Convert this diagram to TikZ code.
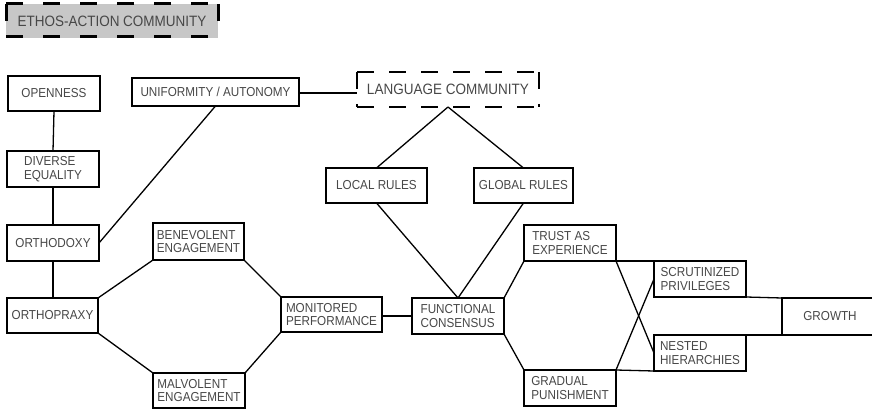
\documentclass[tikz,border=0pt]{standalone}
\usepackage{fontspec}
\setmainfont{Liberation Sans}[FakeStretch=0.9]
\newcommand\bx[7][]{\node[boxn,#1,minimum width={#5-#3},minimum height={#6-#4}] (#2) at ({(#3+#5)/2},{(#4+#6)/2}) {#7};}
\begin{document}
\begin{tikzpicture}[x=1pt,y=-1pt,
  boxn/.style={draw=black,line width=1.7pt,inner sep=0pt,outer sep=0pt,text=black!72,align=left,font=\fontsize{13}{13.4}\selectfont},
  headn/.style={draw=none,font=\fontsize{15}{16}\selectfont},
  ethdash/.style={line width=3pt,dash pattern=on 17pt off 20pt},
  langdash/.style={line width=2.3pt,dash pattern=on 17pt off 15pt},
  conn/.style={line width=1.3pt,black}]
\useasboundingbox (0,0) rectangle (872,409);
\clip (0,0) rectangle (872,409);
% headers
\bx[headn,fill=black!22]{eth}{6}{4}{218}{38}{ETHOS-ACTION COMMUNITY}
\draw[ethdash] (eth.north west) -- (eth.north east);
\draw[ethdash] ([yshift=1pt]eth.south west) -- ([yshift=1pt]eth.south east);
\draw[ethdash] (eth.north west) -- (eth.south west);
\draw[ethdash] (eth.north east) -- (eth.south east);
\bx[headn]{lang}{357}{72}{539}{107}{LANGUAGE COMMUNITY}
\draw[langdash] (lang.north west) -- (lang.north east);
\draw[langdash] (lang.south west) -- (lang.south east);
\draw[langdash] (lang.north west) -- (lang.south west);
\draw[langdash] (lang.north east) -- (lang.south east);
% boxes
\bx{open}{8}{76}{100}{111}{OPENNESS}
\bx{uni}{132}{78}{299}{106}{UNIFORMITY / AUTONOMY}
\bx{div}{7}{151}{99}{187}{DIVERSE\\EQUALITY}
\bx{odx}{7}{225}{99}{261}{ORTHODOXY}
\bx{opx}{7}{298}{98}{333}{ORTHOPRAXY}
\bx{ben}{153}{223}{244}{260}{BENEVOLENT\\ENGAGEMENT}
\bx{mal}{153}{373}{245}{408}{MALVOLENT\\ENGAGEMENT}
\bx{mon}{281}{297}{382}{332}{MONITORED\\PERFORMANCE}
\bx{loc}{326}{168}{427}{203}{LOCAL RULES}
\bx{glob}{474}{168}{573}{203}{GLOBAL RULES}
\bx{func}{412}{298}{504}{334}{FUNCTIONAL\\CONSENSUS}
\bx{trust}{524}{225}{616}{261}{TRUST AS\\EXPERIENCE}
\bx{grad}{524}{370}{616}{406}{GRADUAL\\PUNISHMENT}
\bx{scr}{654}{261}{746}{297}{SCRUTINIZED\\PRIVILEGES}
\bx{nest}{654}{335}{746}{371}{NESTED\\HIERARCHIES}
\bx{gro}{782}{298}{878}{335}{GROWTH}
% connectors
\draw[conn] (open.south) -- (div.north);
\draw[conn] (div.south) -- (odx.north);
\draw[conn] (odx.south) -- (odx.south |- opx.north);
\draw[conn] (odx.east) -- (uni.south);
\draw[conn] ([yshift=-1pt]uni.east) -- ([yshift=-1pt]uni.east -| lang.west);
\draw[conn] (lang.south) -- (loc.north);
\draw[conn] (lang.south) -- (glob.north);
\draw[conn] (loc.south) -- (func.north);
\draw[conn] (glob.south) -- (func.north);
\draw[conn] (opx.north east) -- (ben.south west);
\draw[conn] (opx.south east) -- (mal.north west);
\draw[conn] (ben.south east) -- (mon.north west);
\draw[conn] (mal.north east) -- (mon.south west);
\draw[conn] ([yshift=-1.5pt]mon.east) -- ([yshift=-1.5pt]mon.east -| func.west);
\draw[conn] (func.north east) -- (trust.south west);
\draw[conn] (func.south east) -- (grad.north west);
\draw[conn] (trust.south east) -- (scr.north west);
\draw[conn] (trust.south east) -- (nest.west);
\draw[conn] (grad.north east) -- (nest.south west);
\draw[conn] (grad.north east) -- (scr.west);
\draw[conn] (scr.south east) -- (gro.north west);
\draw[conn] (nest.north east) -- (gro.south west);
\end{tikzpicture}
\end{document}
